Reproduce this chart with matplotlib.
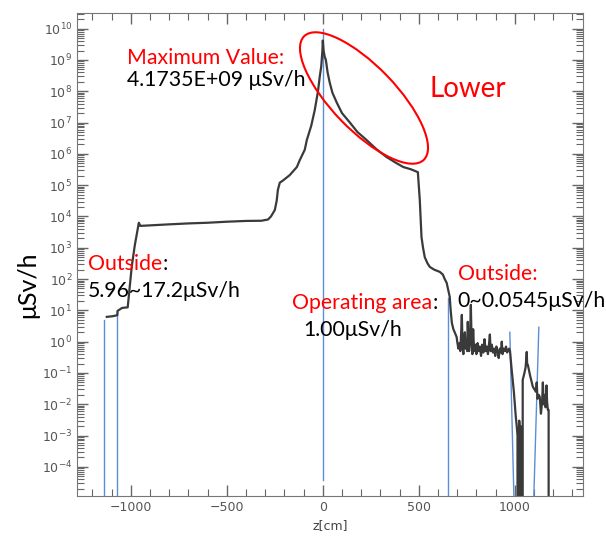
import numpy as np
import matplotlib.pyplot as plt
from matplotlib.patches import Ellipse
from matplotlib.ticker import LogLocator, MultipleLocator, NullFormatter

# dose rate along the axis, z in cm, dose in uSv/h
z_cm = [-1125, -1095, -1070, -1069, -1045, -1016, -995, -979, -958, -950,
        -900, -800, -700, -600, -500, -400, -320, -285, -270, -250,
        -240, -234, -224, -208, -172, -135, -120, -94, -83, -60,
        -42, -25, -16, -8, -2, 0, 4, 10, 16, 25,
        36, 50, 73, 100, 141, 180, 227, 280, 331, 380,
        419, 460, 495, 505, 510, 514, 522, 531, 545, 557,
        580, 609, 625, 635, 645, 655, 661, 666, 672, 680,
        690, 697,
        700, 706, 712, 716, 720, 724, 728, 732, 736, 740,
        744, 748, 752, 755, 758, 762, 766, 771, 775, 779,
        783, 787, 791, 795, 800, 806, 812, 818, 824, 830,
        836, 842, 848, 854, 860, 866, 870, 874, 880, 886,
        892, 898, 904, 910, 916, 922, 928, 932, 936, 942,
        948, 954, 960, 966, 970, 975, 982, 990, 995, 1000,
        1005, 1010, 1014, 1015, 1022, 1023, 1028, 1030, 1031, 1040,
        1041, 1050, 1056, 1060, 1062, 1064, 1068, 1074, 1080, 1088,
        1094, 1102, 1110, 1114, 1118, 1125, 1130, 1136, 1142, 1146,
        1150, 1156, 1160, 1165, 1168, 1172, 1176, 1177, 1250]
dose = [6.2, 6.5, 7.0, 9.6, 12, 12.5, 250, 1200, 6300, 5000,
        5200, 5600, 6000, 6300, 6800, 7200, 7300, 8000, 1.0e4, 1.6e4,
        3.2e4, 7e4, 1.2e5, 1.4e5, 2.1e5, 3.8e5, 6.3e5, 1.35e6, 2.8e6, 8e6,
        2.5e7, 1e8, 2.9e8, 6.3e8, 2e9, 4.17e9, 2e9, 1.26e9, 1e9, 4e8,
        1.9e8, 9e7, 4.3e7, 2e7, 1e7, 5e6, 2.8e6, 1.4e6, 8e5, 5.2e5,
        3.8e5, 3.2e5, 2.6e5, 3.4e4, 8e3, 2.2e3, 1e3, 500, 320, 245,
        200, 170, 140, 100, 76, 40, 27, 10, 4, 2.5,
        1.8, 1.4,
        1.0, 0.6, 0.9, 0.5, 1.6, 7.2, 0.7, 0.4, 1.2, 2.0,
        0.6, 0.9, 0.5, 4.3, 0.8, 0.5, 1.1, 15, 0.9, 0.4,
        2.5, 0.7, 0.5, 0.8, 0.4, 0.9, 0.5, 0.7, 0.35, 0.8,
        0.45, 1.2, 0.5, 0.7, 0.4, 0.9, 1.7, 0.5, 0.8, 0.45,
        0.6, 0.35, 0.7, 0.5, 0.3, 0.6, 0.45, 1.0, 0.4, 0.6,
        0.5, 0.7, 0.45, 0.55, 0.6, 0.5, 0.16, 0.05, 0.025, 0.01,
        0.004, 0.002, 0.001, 0, 0, 0.003, 0.0003, 0.002, 0, 0,
        0.06, 0.1, 0.15, 0.3, 0.47, 0.2, 0.18, 0.12, 0.08, 0.05,
        0.036, 0.03, 0.025, 0.05, 0.015, 0.02, 0.017, 0.005, 0.012, 0.05,
        0.01, 0.02, 0.008, 0.04, 0.012, 0.0066, 0.0066, 0, 0]

# blue marker lines: (z top, z bottom, dose top, dose bottom)
blue_z_top = [-1140, -1073, 0, 651, 974, 1125]
blue_z_bot = [-1140, -1073, 0, 651, 995, 1099]
blue_v_top = [5.0, 8.9, 1e10, 25, 2.0, 2.9]
blue_v_bot = [1.2e-5, 1.2e-5, 3.8e-5, 1.2e-5, 1.2e-5, 1.2e-5]

W, H = 606, 537
fig = plt.figure(figsize=(W / 100, H / 100), dpi=100)
ax = fig.add_axes([77 / W, 1 - 496 / H, (583 - 77) / W, (496 - 13) / H])

for zt, zb, vt, vb in zip(blue_z_top, blue_z_bot, blue_v_top, blue_v_bot):
    ax.plot([zt, zb], [vt, vb], color='#5b8ed6', lw=1.0)

ax.plot(z_cm, dose, color='#3a3a3a', lw=1.6)

ax.set_yscale('log', nonpositive='clip')
ax.set_xlim(-1280, 1355)
ax.set_ylim(10 ** -4.93, 10 ** 10.5)

ax.yaxis.set_major_locator(LogLocator(base=10, numticks=30))
ax.yaxis.set_minor_locator(LogLocator(base=10, subs=np.arange(2, 10), numticks=30))
ax.yaxis.set_minor_formatter(NullFormatter())
ax.xaxis.set_major_locator(MultipleLocator(500))
ax.xaxis.set_minor_locator(MultipleLocator(100))

gray = '#666666'
ax.tick_params(which='both', direction='in', top=True, right=True, colors=gray,
               labelsize=9, labelcolor='#555555')
ax.tick_params(which='major', length=8, width=1)
ax.tick_params(which='minor', length=5, width=0.8)
for s in ax.spines.values():
    s.set_color('#777777')

ax.set_xlabel('z[cm]', fontsize=9, color='#444444', labelpad=4)
fig.text(28 / W, 1 - 285 / H, 'μSv/h', rotation=90, fontsize=18,
         family='Lato', ha='center', va='center')

FS = 15.3


def px(x, y):
    return x / W, 1 - y / H


def label(x, y, text, color='red', black_colon=False, size=FS):
    t = fig.text(*px(x, y), text, color=color, fontsize=size, family='Lato',
                 va='baseline', ha='left')
    if black_colon:
        ax.annotate(':', xy=(1, 0), xycoords=t, va='bottom', ha='left',
                    fontsize=size, family='Lato', color='black')
    return t


label(127, 64, 'Maximum Value:')
label(127, 86, '4.1735E+09 μSv/h', color='black')
label(430, 97, 'Lower', size=20)
label(88, 270, 'Outside', black_colon=True)
label(88, 297, '5.96~17.2μSv/h', color='black')
label(292, 309, 'Operating area', black_colon=True)
label(303, 336, '1.00μSv/h', color='black')
label(458, 280, 'Outside:')
label(457, 307, '0~0.0545μSv/h', color='black')

fig.patches.append(Ellipse((3.64, (H - 98) / 100), 1.72, 0.64, angle=-46,
                           transform=fig.dpi_scale_trans, fill=False,
                           edgecolor='red', lw=1.5))

fig.savefig('out.png', dpi=100)
